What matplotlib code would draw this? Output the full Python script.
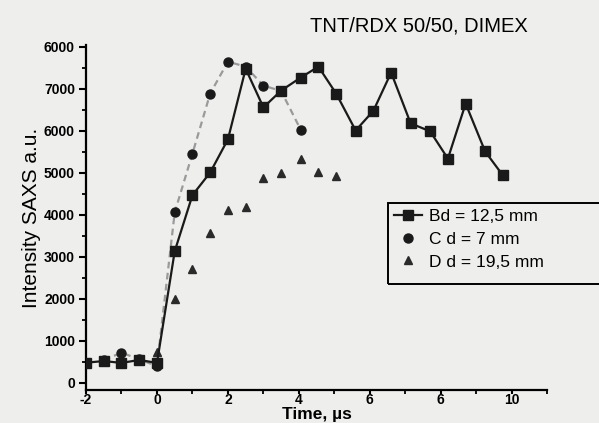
import matplotlib.pyplot as plt
from matplotlib.patches import Rectangle
from matplotlib.ticker import MultipleLocator, FixedLocator

plt.rcParams['font.family'] = ['Liberation Sans', 'DejaVu Sans']
fontSize = 10

# series B, d = 12,5 mm (squares, solid line)
timeB = [-2, -1.5, -1, -0.5, 0, 0.5, 1.0, 1.5, 2.0, 2.5, 3.0, 3.5, 4.05, 4.55, 5.05,
         5.6, 6.1, 6.6, 7.15, 7.7, 8.2, 8.7, 9.25, 9.75]
intB = [480, 520, 475, 546, 475, 3135, 4470, 5010, 5800, 7480, 6560, 6960, 7270, 7530, 6890,
        6010, 6480, 7390, 6180, 5990, 5340, 6650, 5510, 4940]

# series C, d = 7 mm (circles, grey dashed)
timeC = [-1.5, -1, -0.5, 0, 0.5, 1.0, 1.5, 2.0, 2.5, 3.0, 3.5, 4.05]
intC = [540, 720, 560, 400, 4060, 5460, 6890, 7650, 7530, 7080, 6950, 6030]

# series D, d = 19,5 mm (triangles, no line)
timeD = [0, 0.5, 1.0, 1.5, 2.0, 2.5, 3.0, 3.5, 4.05, 4.55, 5.05]
intD = [740, 2000, 2710, 3560, 4110, 4200, 4870, 4990, 5320, 5010, 4920]

xTicks = [-2, 0, 2, 4, 6, 8, 10]
xTickLabels = ['-2', '0', '2', '4', '6', '6', '10']
yTicks = [0, 1000, 2000, 3000, 4000, 5000, 6000, 7000, 8000]
yTickLabels = ['0', '1000', '2000', '3000', '4000', '5000', '6000', '7000', '6000']

bg = '#eeeeec'
fig = plt.figure(figsize=(5.99, 4.23), dpi=100, facecolor=bg)
ax = fig.add_axes([0.1436, 0.078, 0.770, 0.816])
ax.set_facecolor(bg)

ax.plot(timeC, intC, color='#9a9a9a', linestyle=(0, (3, 2)), linewidth=1.6, zorder=1)
ax.plot(timeC, intC, linestyle='none', marker='o', markersize=6.5, color='#1a1a1a',
        label='C d = 7 mm', zorder=3)
ax.plot(timeB, intB, color='#1a1a1a', linewidth=1.6, marker='s', markersize=6.5,
        label='Bd = 12,5 mm', zorder=4)
ax.plot(timeD, intD, linestyle='none', marker='^', markersize=6, color='#2a2a2a',
        label='D d = 19,5 mm', zorder=3)

ax.set_xlim(-2, 11)
ax.set_ylim(-170, 8050)

for s in ['top', 'right']:
    ax.spines[s].set_visible(False)
for s in ['left', 'bottom']:
    ax.spines[s].set_linewidth(1.6)

ax.xaxis.set_major_locator(FixedLocator(xTicks))
ax.set_xticklabels(xTickLabels)
ax.xaxis.set_minor_locator(MultipleLocator(1))
ax.yaxis.set_major_locator(FixedLocator(yTicks))
ax.set_yticklabels(yTickLabels)
ax.yaxis.set_minor_locator(MultipleLocator(500))
ax.tick_params(which='major', length=5, width=1.5, labelsize=fontSize, pad=3)
ax.tick_params(axis='x', which='major', length=3, pad=-1)
ax.tick_params(which='minor', length=3, width=1.3)
for lbl in ax.get_xticklabels() + ax.get_yticklabels():
    lbl.set_fontweight('bold')

ax.set_xlabel('Time, µs', fontsize=12.5, fontweight='bold', labelpad=0)
ax.set_ylabel('Intensity SAXS a.u.', fontsize=15, labelpad=2)
fig.text(0.70, 0.938, 'TNT/RDX 50/50, DIMEX', fontsize=14.5, ha='center', va='center')

handles, labels = ax.get_legend_handles_labels()
order = [1, 0, 2]
leg = ax.legend([handles[i] for i in order], [labels[i] for i in order],
                loc='upper left', bbox_to_anchor=(391 / 599, 1 - 205 / 423),
                bbox_transform=fig.transFigure, fontsize=12.5, frameon=False,
                handlelength=1.6, handletextpad=0.4, labelspacing=0.45,
                borderpad=0.2, borderaxespad=0)
# legend box runs off the right edge, as in the scan
fig.patches.append(Rectangle((388 / 599, 1 - 284 / 423), 0.5, 81 / 423,
                             transform=fig.transFigure, fill=False,
                             edgecolor='black', linewidth=1.4, zorder=5))

plt.savefig('out.png', dpi=100, facecolor=bg)
